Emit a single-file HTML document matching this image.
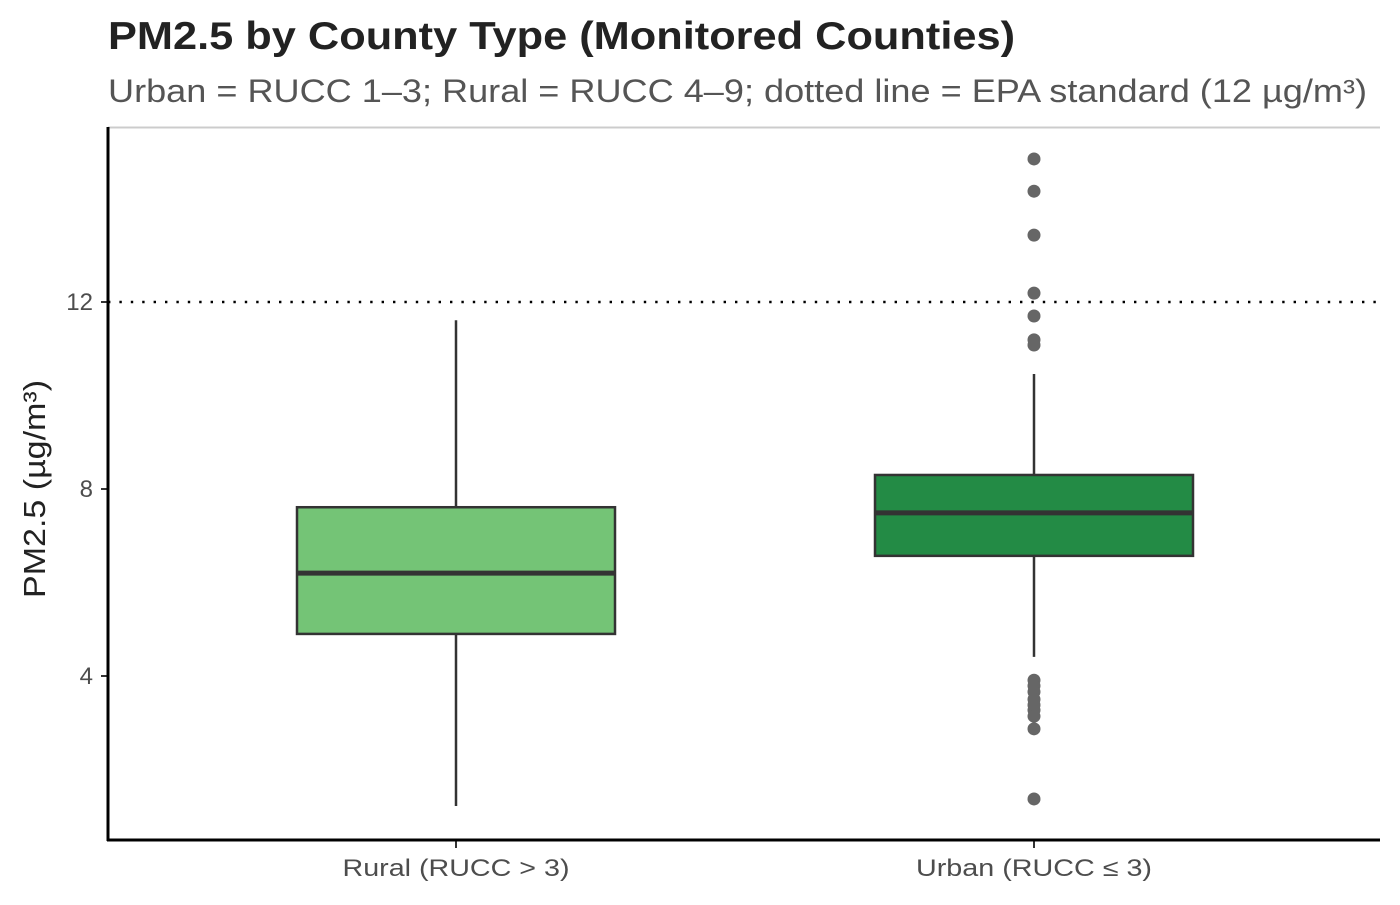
<!DOCTYPE html>
<html><head><meta charset="utf-8"><style>
body{margin:0;background:#fff;font-family:"Liberation Sans",Arial,sans-serif}
</style></head><body>
<svg width="1400" height="900" xmlns="http://www.w3.org/2000/svg">
<text x="108" y="49" font-size="39" font-weight="bold" fill="#222" textLength="907" lengthAdjust="spacingAndGlyphs">PM2.5 by County Type (Monitored Counties)</text>
<text x="108" y="102" font-size="32" fill="#555" textLength="1259" lengthAdjust="spacingAndGlyphs">Urban = RUCC 1–3; Rural = RUCC 4–9; dotted line = EPA standard (12 µg/m³)</text>
<line x1="108" y1="127.5" x2="1380" y2="127.5" stroke="#ccc" stroke-width="2"/>
<g id="plot"></g>
<line x1="108" y1="127" x2="108" y2="841" stroke="#000" stroke-width="3"/>
<line x1="107" y1="840" x2="1380" y2="840" stroke="#000" stroke-width="3"/>
<text transform="translate(45,489) rotate(-90)" text-anchor="middle" font-size="31" fill="#222" textLength="218" lengthAdjust="spacingAndGlyphs">PM2.5 (µg/m³)</text>
</svg>
<script>
const categories=["Rural (RUCC > 3)","Urban (RUCC ≤ 3)"];
const whiskerLow=[1.22,4.41];
const q1=[4.90,6.57];
const medians=[6.20,7.49];
const q3=[7.61,8.30];
const whiskerHigh=[11.61,10.46];
const fills=["#74c476","#238b45"];
const outlierGroup=[1,1,1,1,1,1,1,1,1,1,1,1,1,1,1,1];
const outlierValues=[15.06,14.37,13.43,12.19,11.70,11.19,11.08,3.91,3.79,3.66,3.38,3.27,3.14,2.87,1.37,3.5];
const yTicks=[4,8,12];
const epaStandard=12;
const NS="http://www.w3.org/2000/svg";
const g=document.getElementById('plot');
const y=v=>676-(v-4)*46.75;
const x=i=>456+i*578;
const halfW=159;
const labelW=[227,236];
function mk(t,a){const e=document.createElementNS(NS,t);for(const k in a)e.setAttribute(k,a[k]);g.appendChild(e);return e;}
yTicks.forEach(t=>{
 const l=mk('line',{x1:101,x2:108,y1:y(t),y2:y(t),stroke:'#333','stroke-width':2});
 
 
 const tx=mk('text',{x:93,y:y(t)+8,'text-anchor':'end','font-size':24,fill:'#4d4d4d'});
 tx.textContent=t;
 
 
});
const ref=mk('line',{x1:108,x2:1380,y1:y(epaStandard),y2:y(epaStandard),stroke:'#000','stroke-width':2.4,'stroke-dasharray':'2.4 9'});


categories.forEach((c,i)=>{
 const cx=x(i);
 const w=mk('line',{x1:cx,x2:cx,y1:y(whiskerLow[i]),y2:y(whiskerHigh[i]),stroke:'#333','stroke-width':2.5});
 
 
 const b=mk('rect',{x:cx-halfW,y:y(q3[i]),width:2*halfW,height:y(q1[i])-y(q3[i]),fill:fills[i],stroke:'#333','stroke-width':2.5});
 
 
 const m=mk('line',{x1:cx-halfW,x2:cx+halfW,y1:y(medians[i]),y2:y(medians[i]),stroke:'#333','stroke-width':5});
 
 
 const tk=mk('line',{x1:cx,x2:cx,y1:840,y2:848,stroke:'#333','stroke-width':2});
 
 
 const t=mk('text',{x:cx,y:876,'text-anchor':'middle','font-size':24,fill:'#4d4d4d',textLength:labelW[i],lengthAdjust:'spacingAndGlyphs'});
 t.textContent=c;
 
 
});
outlierValues.forEach((v,k)=>{
 const p=mk('circle',{cx:x(outlierGroup[k]),cy:y(v),r:6.5,fill:'#666'});
 
 
});
</script>
</body></html>
